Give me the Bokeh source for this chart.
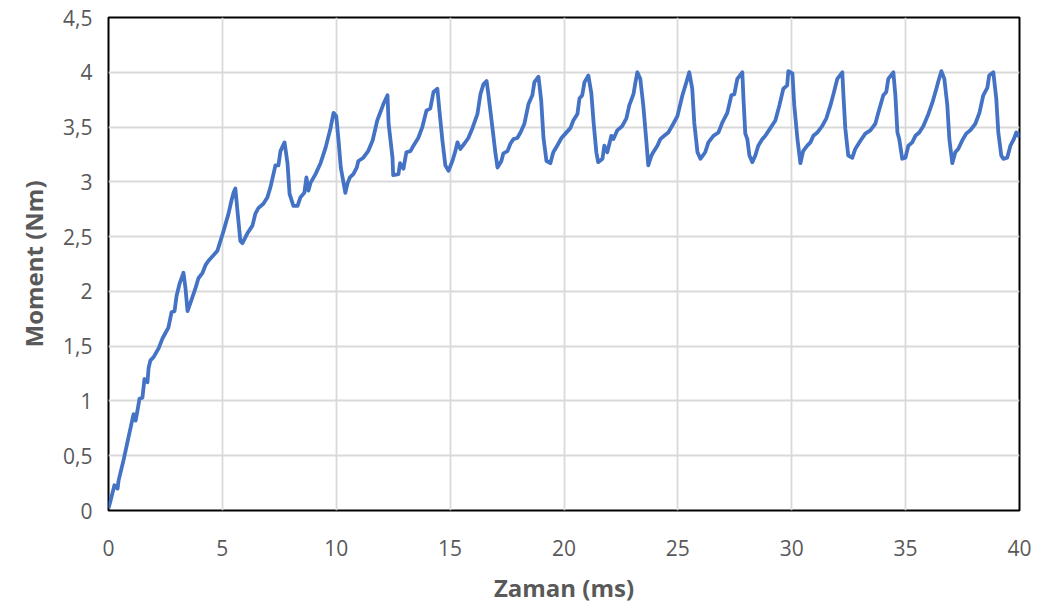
from bokeh.plotting import figure
from bokeh.models import FixedTicker, Range1d
from bokeh.embed import file_html
from bokeh.resources import INLINE

# Time (ms) and torque (Nm)
t_ms = [0, 0.09, 0.26, 0.4, 0.44, 0.66, 0.88, 1.1, 1.19, 1.27, 1.36, 1.49, 1.58, 1.71, 1.76, 1.84, 1.98, 2.2, 2.37, 2.5,
        2.63, 2.77, 2.9, 2.99, 3.12, 3.29, 3.38, 3.47, 3.64, 3.82, 3.95, 4.13, 4.26, 4.39, 4.61, 4.78,
        5.05, 5.27, 5.4, 5.49, 5.57, 5.66, 5.79, 5.88, 6.1, 6.32, 6.45, 6.58, 6.8, 6.98, 7.11, 7.33, 7.46, 7.55, 7.73,
        7.86, 7.95, 8.12, 8.3, 8.43, 8.6, 8.69, 8.78, 8.87, 9.09, 9.31, 9.53, 9.75, 9.88, 10.0, 10.1, 10.2, 10.4, 10.5,
        10.6, 10.75, 10.9, 10.97, 11.19, 11.4, 11.6, 11.8, 12.07, 12.25, 12.3, 12.47, 12.5, 12.73, 12.8, 12.95, 13.08,
        13.26, 13.39, 13.6, 13.78, 13.96, 14.13, 14.27, 14.44, 14.53, 14.66, 14.79, 14.93,
        15.1, 15.23, 15.32, 15.45, 15.63, 15.8, 15.98, 16.2, 16.33, 16.46, 16.6, 16.68, 16.86, 16.99, 17.08, 17.25,
        17.34, 17.52, 17.65, 17.78, 17.95, 18.09, 18.26, 18.44, 18.61, 18.7, 18.88, 19.0, 19.1, 19.23, 19.4,
        19.53, 19.7, 19.89, 20.06, 20.28, 20.41, 20.59, 20.68, 20.8, 20.9, 21.07, 21.2, 21.3, 21.42, 21.5, 21.69,
        21.77, 21.9, 22.08, 22.17, 22.34, 22.56, 22.74, 22.87, 23.05, 23.13, 23.22, 23.35, 23.48, 23.62, 23.7, 23.84,
        23.92, 24.1, 24.23, 24.4, 24.58, 24.8, 24.98, 25.2, 25.33, 25.5, 25.63, 25.72, 25.86, 25.99,
        26.2, 26.34, 26.56, 26.78, 26.95, 27.17, 27.35, 27.48, 27.61, 27.83, 27.88, 27.96, 28.05, 28.14, 28.27, 28.4,
        28.53, 28.71, 28.84, 29.06, 29.28, 29.46, 29.63, 29.8, 29.85, 30.03, 30.11, 30.25, 30.38, 30.5, 30.68, 30.82,
        30.95, 31.12, 31.34, 31.52, 31.7, 31.83, 32.0, 32.22, 32.27, 32.35, 32.48, 32.66, 32.79,
        33.0, 33.23, 33.45, 33.67, 33.8, 34.02, 34.15, 34.24, 34.46, 34.55, 34.64, 34.72, 34.85, 34.99, 35.12, 35.29,
        35.43, 35.6, 35.78, 36.0, 36.17, 36.35, 36.44, 36.57, 36.7, 36.83, 36.92, 37.05, 37.18, 37.31, 37.49, 37.66,
        37.84, 38.06, 38.24, 38.41, 38.59, 38.67, 38.85, 38.98, 39.07, 39.2, 39.29, 39.46, 39.6, 39.73, 39.86, 39.95, 40.0]
torque_nm = [0.02, 0.09, 0.23, 0.2, 0.27, 0.46, 0.67, 0.88, 0.82, 0.91, 1.02, 1.03, 1.2, 1.17, 1.3, 1.37, 1.40, 1.48, 1.57, 1.62,
             1.67, 1.81, 1.82, 1.96, 2.07, 2.17, 2.03, 1.82, 1.92, 2.03, 2.12, 2.17, 2.24, 2.28, 2.33, 2.37,
             2.55, 2.71, 2.83, 2.9, 2.94, 2.74, 2.46, 2.44, 2.53, 2.6, 2.71, 2.76, 2.8, 2.86, 2.95, 3.15, 3.15, 3.28, 3.36,
             3.17, 2.89, 2.78, 2.78, 2.86, 2.9, 3.04, 2.92, 2.99, 3.07, 3.17, 3.31, 3.49, 3.63, 3.6, 3.38, 3.13, 2.90, 2.99,
             3.04, 3.07, 3.13, 3.19, 3.22, 3.28, 3.38, 3.56, 3.71, 3.79, 3.53, 3.22, 3.06, 3.07, 3.17, 3.12, 3.27,
             3.28, 3.33, 3.4, 3.5, 3.65, 3.67, 3.82, 3.85, 3.65, 3.38, 3.15, 3.10,
             3.19, 3.28, 3.36, 3.30, 3.35, 3.40, 3.49, 3.62, 3.80, 3.89, 3.92, 3.80, 3.49, 3.26, 3.13, 3.19,
             3.26, 3.28, 3.35, 3.39, 3.40, 3.45, 3.53, 3.71, 3.79, 3.91, 3.96, 3.74, 3.40, 3.19, 3.17,
             3.27, 3.33, 3.40, 3.44, 3.49, 3.56, 3.62, 3.76, 3.79, 3.91, 3.97, 3.81, 3.54, 3.27, 3.18, 3.21,
             3.33, 3.27, 3.42, 3.39, 3.47, 3.51, 3.58, 3.70, 3.80, 3.90, 4.0, 3.94, 3.70, 3.36, 3.15, 3.24,
             3.27, 3.33, 3.39, 3.42, 3.45, 3.53, 3.60, 3.79, 3.88, 4.0, 3.85, 3.54, 3.27, 3.21,
             3.27, 3.36, 3.42, 3.45, 3.54, 3.63, 3.79, 3.80, 3.94, 4.0, 3.76, 3.44, 3.39, 3.24, 3.18, 3.24,
             3.33, 3.39, 3.42, 3.49, 3.56, 3.70, 3.85, 3.88, 4.01, 3.99, 3.70, 3.39, 3.17, 3.28, 3.33, 3.36,
             3.42, 3.45, 3.51, 3.58, 3.70, 3.80, 3.94, 4.0, 3.79, 3.49, 3.24, 3.22, 3.30,
             3.37, 3.44, 3.47, 3.53, 3.63, 3.79, 3.82, 3.94, 4.0, 3.79, 3.45, 3.39, 3.21, 3.22, 3.33, 3.36,
             3.42, 3.45, 3.51, 3.62, 3.72, 3.85, 3.92, 4.01, 3.94, 3.70, 3.39, 3.17, 3.27, 3.30, 3.38, 3.44,
             3.47, 3.53, 3.63, 3.79, 3.86, 3.97, 4.0, 3.76, 3.45, 3.24, 3.21, 3.22, 3.33, 3.38, 3.45, 3.42, 3.45]

x_ticks = [0, 5, 10, 15, 20, 25, 30, 35, 40]
x_labels = ["0", "5", "10", "15", "20", "25", "30", "35", "40"]
y_ticks = [0, 0.5, 1, 1.5, 2, 2.5, 3, 3.5, 4, 4.5]
y_labels = ["0", "0,5", "1", "1,5", "2", "2,5", "3", "3,5", "4", "4,5"]

FONT = "Open Sans"
GREY = "#595959"

p = figure(width=1043, height=608, output_backend="svg", toolbar_location=None,
           x_range=Range1d(0, 40), y_range=Range1d(0, 4.5),
           min_border_left=108, min_border_right=24, min_border_top=17, min_border_bottom=98)

p.line(t_ms, torque_nm, line_color="#4472C4", line_width=3.8, line_join="round")

p.outline_line_color = "black"
p.outline_line_width = 2
p.background_fill_color = "white"
p.border_fill_color = "white"

p.xaxis.ticker = FixedTicker(ticks=x_ticks)
p.yaxis.ticker = FixedTicker(ticks=y_ticks)
p.xaxis.major_label_overrides = {t: l for t, l in zip(x_ticks, x_labels)}
p.yaxis.major_label_overrides = {t: l for t, l in zip(y_ticks, y_labels)}

for ax in (p.xaxis, p.yaxis):
    ax.axis_line_color = None
    ax.major_tick_line_color = None
    ax.minor_tick_line_color = None
    ax.major_label_text_font = FONT
    ax.major_label_text_font_size = "21px"
    ax.major_label_text_color = GREY
    ax.axis_label_text_font = FONT
    ax.axis_label_text_font_size = "24px"
    ax.axis_label_text_font_style = "bold"
    ax.axis_label_text_color = GREY

p.xaxis.axis_label = "Zaman (ms)"
p.yaxis.axis_label = "Moment (Nm)"
p.xaxis.major_label_standoff = 23
p.yaxis.major_label_standoff = 10
p.xaxis.axis_label_standoff = 12
p.yaxis.axis_label_standoff = 10

p.xgrid.grid_line_color = "#D9D9D9"
p.ygrid.grid_line_color = "#D9D9D9"
p.xgrid.grid_line_width = 1.8
p.ygrid.grid_line_width = 1.8

open("out.html", "w").write(file_html(p, INLINE))
